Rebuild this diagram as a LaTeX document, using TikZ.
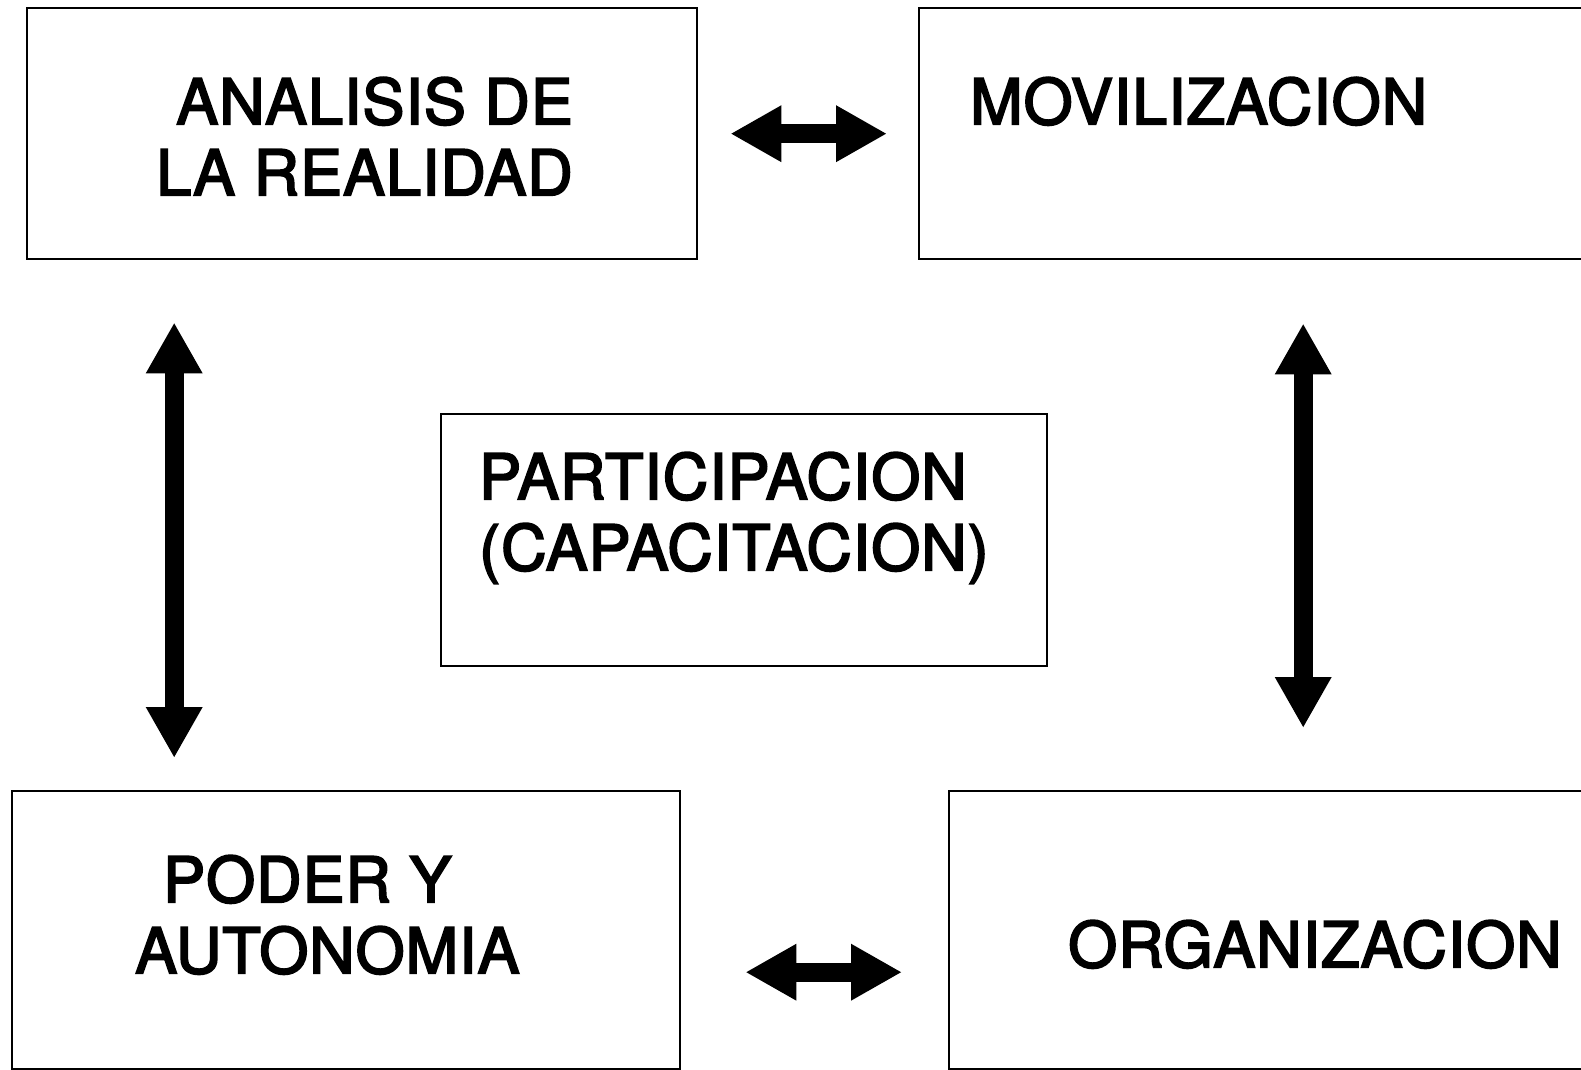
\documentclass[tikz,border=0pt]{standalone}
\usepackage{fontspec}
\setmainfont{TeX Gyre Heros}
\newfontfamily\heavyfont[RawFeature={embolden=3}, LetterSpace=1.5]{TeX Gyre Heros}
\usetikzlibrary{arrows.meta,positioning}

\begin{document}
\begin{tikzpicture}[x=1pt, y=-1pt,
box/.style = {draw=black, line width=2.4pt, anchor=north west, inner sep=0pt},
lbl/.style = {inner sep=0pt, font=\heavyfont\fontsize{63}{71}\selectfont},
fatarrow/.style = {line width=19pt,
  {Triangle[length=51pt,width=53pt]}-{Triangle[length=51pt,width=53pt]}} ]
\useasboundingbox (0,0) rectangle (1581,1070);
% boxes
\node[box, minimum width=670pt, minimum height=251pt] (ana) at (26,7) {};
\node[box, minimum width=682pt, minimum height=251pt] (mov) at (918,7) {};
\node[box, minimum width=606pt, minimum height=252pt] (par) at (440,413) {};
\node[box, minimum width=668pt, minimum height=278pt] (pod) at (11,790) {};
\node[box, minimum width=652pt, minimum height=278pt] (org) at (948,790) {};
% texts
\node[lbl, anchor=north east, align=right] (anatxt) at (573,77) {ANALISIS DE\\LA REALIDAD};
\node[lbl, anchor=north west] (movtxt) at (970,77) {MOVILIZACION};
\node[lbl, anchor=north west, align=left] (partxt) at (479,452) {PARTICIPACION\\(CAPACITACION)};
\node[lbl, anchor=north west, align=left] (podtxt) at (135,855) {\hspace*{28pt}PODER Y\\AUTONOMIA};
\node[lbl, anchor=north west] (orgtxt) at (1068,920) {ORGANIZACION};
% arrows
\draw[fatarrow, shorten <=32pt, shorten >=31pt] (ana.east) -- (mov.west);
\draw[fatarrow, shorten <=64pt, shorten >=46pt] ([yshift=-42pt]pod.east) -- ([yshift=-42pt]org.west);
\draw[fatarrow, shorten <=62pt, shorten >=32pt] ([xshift=-188pt]ana.south) -- ([xshift=-188pt]ana.south |- pod.north);
\draw[fatarrow, shorten <=63pt, shorten >=62pt] ([xshift=43pt]mov.south) -- ([xshift=43pt]mov.south |- org.north);
\end{tikzpicture}
\end{document}
